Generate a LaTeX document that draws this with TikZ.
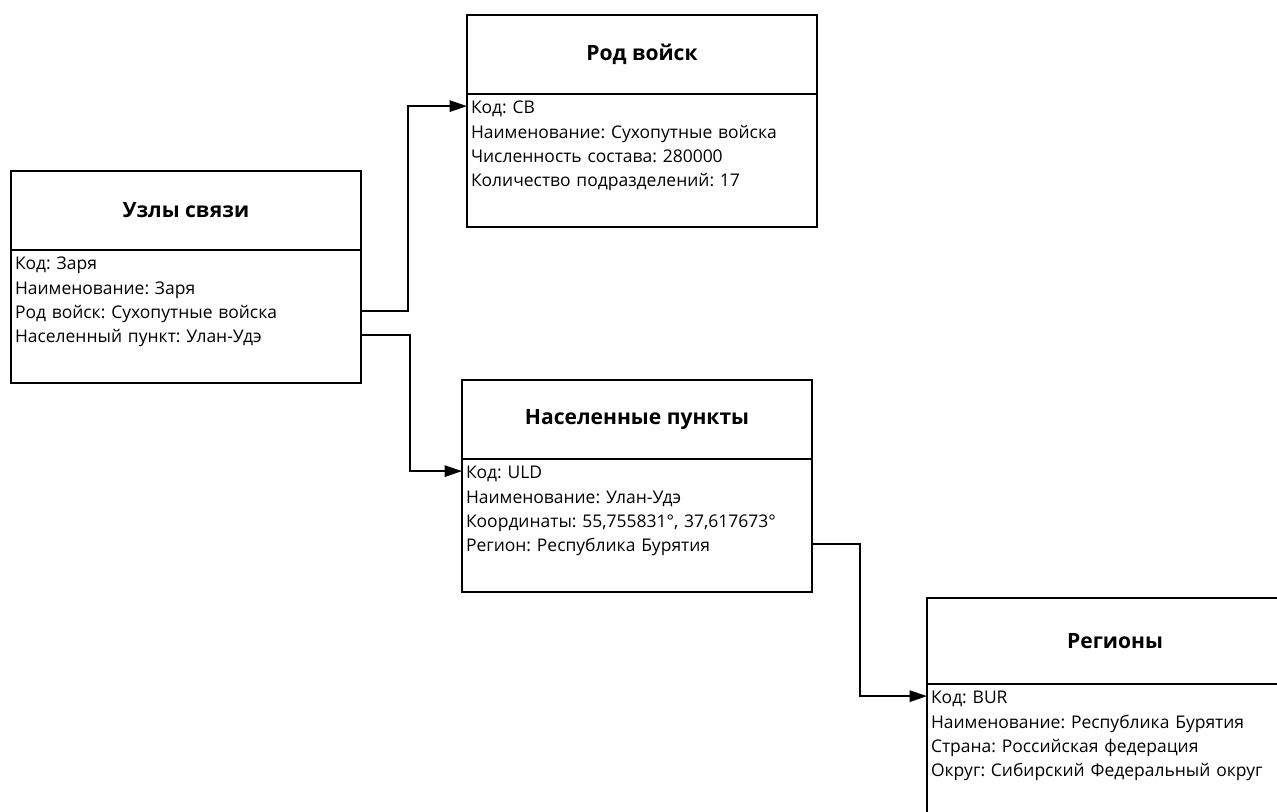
\documentclass[tikz,border=0pt]{standalone}
\usepackage{fontspec}
\setmainfont{Open Sans}
\frenchspacing
\usepackage{tikz}
\usetikzlibrary{
  arrows.meta, % for the filled Triangle arrow tip
  positioning, % for relative positioning of the boxes and fields
}
\tikzset{
  entity/.style={ % style for the title part of each table
    rectangle,draw,line width=1.3pt, % drawn as a thick rectangle
    minimum width=262.5pt, % every table has the same width
    minimum height=59.25pt, % height of the title part
    inner sep=0pt,outer sep=0pt, % no padding, borders meet exactly
    font=\bfseries\fontsize{15.8}{18}\selectfont, % bold title
  },
  body/.style={ % style for the lower part holding the fields
    entity, % inherit the entity style
    minimum height=99.75pt, % taller than the title
  },
  field/.style={ % style for one field line
    rectangle, % no border drawn
    text width=256.5pt, % box width minus the padding
    inner xsep=3pt,inner ysep=0pt,outer sep=0pt, % small padding on the left
    minimum height=18.2pt, % spacing between lines
    text height=14.5pt,text depth=3pt, % keep lines even
    align=left, % fields are left aligned
    font=\fontsize{13.1}{15}\selectfont,
  },
  conn/.style={ % style for the connections
    -{Triangle[length=13pt,width=8.5pt]}, % filled arrow tip
    line width=1.3pt, % same weight as the boxes
  },
}
\begin{document}
\begin{tikzpicture}[x=0.75pt,y=-0.75pt]
	\useasboundingbox (0,0) rectangle (1277,812);
	\clip (0,0) rectangle (1277,812);
	
	\node[entity, anchor=north west] (uzly) at (11,171) {Узлы связи};
	\node[body, below=0pt of uzly] (uzlyBody) {};
	\node[field, anchor=north west] (uzlyKod) at (uzlyBody.north west) {Код: Заря};
	\node[field, below=0pt of uzlyKod] (uzlyName) {Наименование: Заря};
	\node[field, below=0pt of uzlyName] (uzlyRod) {Род войск: Сухопутные войска};
	\node[field, below=0pt of uzlyRod] (uzlyPunkt) {Населенный пункт: Улан-Удэ};
	
	\node[entity, anchor=north west] (rod) at (467,15) {Род войск};
	\node[body, below=0pt of rod] (rodBody) {};
	\node[field, anchor=north west] (rodKod) at (rodBody.north west) {Код: СВ};
	\node[field, below=0pt of rodKod] (rodName) {Наименование: Сухопутные войска};
	\node[field, below=0pt of rodName] (rodCount) {Численность состава: 280000};
	\node[field, below=0pt of rodCount] (rodUnits) {Количество подразделений: 17};
	
	\node[entity, anchor=north west] (punkt) at (462,380) {Населенные пункты};
	\node[body, below=0pt of punkt] (punktBody) {};
	\node[field, anchor=north west] (punktKod) at (punktBody.north west) {Код: ULD};
	\node[field, below=0pt of punktKod] (punktName) {Наименование: Улан-Удэ};
	\node[field, below=0pt of punktName] (punktCoord) {Координаты: 55,755831°, 37,617673°};
	\node[field, below=0pt of punktCoord] (punktReg) {Регион: Республика Бурятия};
	
	\node[entity, minimum width=282pt, minimum height=64.5pt, anchor=north west] (reg) at (927,598) {Регионы};
	\node[body, minimum width=282pt, minimum height=150pt, below=0pt of reg] (regBody) {};
	\node[field, anchor=north west] (regKod) at (regBody.north west) {Код: BUR};
	\node[field, below=0pt of regKod] (regName) {Наименование: Республика Бурятия};
	\node[field, below=0pt of regName] (regCountry) {Страна: Российская федерация};
	\node[field, below=0pt of regCountry] (regOkrug) {Округ: Сибирский Федеральный округ};
	
	\draw[conn] (uzlyRod.east) -- ++(35pt,0) |- (rodKod.west);
	\draw[conn] (uzlyPunkt.east) -- ++(37pt,0) |- (punktKod.west);
	\draw[conn] (punktReg.east) -- ++(36pt,0) |- (regKod.west);
\end{tikzpicture}
\end{document}
